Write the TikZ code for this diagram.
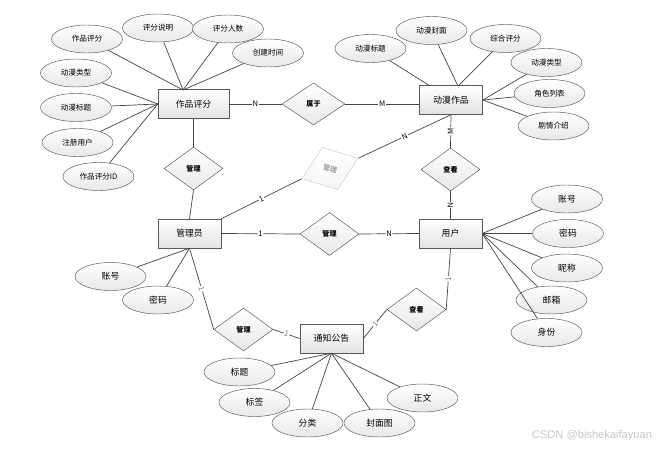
\documentclass[tikz,border=0pt]{standalone}
\usepackage{fontspec}
\setmainfont{Noto Sans CJK SC}
\newfontfamily\wmfont{Liberation Sans}
\usetikzlibrary{shapes.geometric}
\definecolor{linegray}{HTML}{454545}
\definecolor{edgegray}{HTML}{5A5A5A}
\tikzset{
  entity/.style={draw=edgegray, rectangle, top color=white, bottom color=gray!22,
    minimum width=1.89cm, minimum height=0.87cm, inner sep=0pt, font=\fontsize{7.5}{9}\selectfont},
  attr/.style={draw=edgegray, ellipse, top color=white, bottom color=gray!18,
    minimum width=2.13cm, minimum height=0.84cm, inner sep=0pt, font=\fontsize{6.5}{8}\selectfont},
  bigattr/.style={attr, font=\fontsize{7.5}{9}\selectfont},
  relation/.style={draw=edgegray, diamond, top color=white, bottom color=gray!18,
    minimum width=1.77cm, minimum height=1.29cm, inner sep=0pt, font=\fontsize{6}{7}\bfseries\selectfont},
  card/.style={fill=white, inner sep=0.6pt, font=\fontsize{6.5}{7}\selectfont, sloped},
  link/.style={draw=linegray, line width=0.6pt}
}
\begin{document}
\begin{tikzpicture}[x=0.03cm, y=-0.03cm]
  \useasboundingbox (0,0) rectangle (666,450);
  % entities
  \node[entity, minimum width=2.13cm] (zpf) at (193.5,104) {作品评分};
  \node[entity] (dm) at (451,100) {动漫作品};
  \node[entity] (gly) at (189.5,233.5) {管理员};
  \node[entity] (yh) at (450.5,233.5) {用户};
  \node[entity] (tz) at (331.5,338.5) {通知公告};
  % relations
  \node[relation, minimum width=1.89cm, minimum height=1.26cm] (sy) at (313.5,104) {属于};
  \node[relation] (gl1) at (193.5,168.5) {管理};
  \node[relation] (ck1) at (450.5,169.5) {查看};
  \node[relation] (gl2) at (329.5,234) {管理};
  \node[relation] (gl3) at (243.5,329.5) {管理};
  \node[relation] (ck2) at (416.5,309.5) {查看};
  \node[relation, draw=gray!40, top color=white, bottom color=gray!8, text=gray!70,
    minimum width=1.8cm, minimum height=1.35cm, rotate=20] (gl4) at (330,168.5) {\rotatebox{-35}{管理}};
  % attributes of 作品评分
  \node[attr] (zpf1) at (87,39) {作品评分};
  \node[attr] (zpf2) at (158,28) {评分说明};
  \node[attr] (zpf3) at (228,29) {评分人数};
  \node[attr] (zpf4) at (268,53) {创建时间};
  \node[attr] (zpf5) at (76,73) {动漫类型};
  \node[attr] (zpf6) at (76,107.5) {动漫标题};
  \node[attr] (zpf7) at (77.5,142.5) {注册用户};
  \node[attr] (zpf8) at (98.5,176.5) {作品评分ID};
  \coordinate (zpftop) at (183,90);
  \foreach \a in {zpf1,zpf2,zpf3,zpf4} \draw[link] (\a) -- (zpftop);
  \foreach \a in {zpf5,zpf6,zpf7,zpf8} \draw[link] (\a) -- (zpf.west);
  % attributes of 动漫作品
  \node[attr] (dm1) at (370.5,48.5) {动漫标题};
  \node[attr] (dm2) at (431.5,30.5) {动漫封面};
  \node[attr] (dm3) at (505.5,38.5) {综合评分};
  \node[attr] (dm4) at (546.5,62.5) {动漫类型};
  \node[attr] (dm5) at (549.5,93.5) {角色列表};
  \node[attr] (dm6) at (553.5,126) {剧情介绍};
  \coordinate (dmtop1) at (430,86);
  \coordinate (dmtop2) at (458,86);
  \draw[link] (dm1) -- (dmtop1);
  \draw[link] (dm2) -- (dmtop2);
  \draw[link] (dm3) -- (dmtop2);
  \foreach \a in {dm4,dm5,dm6} \draw[link] (\a) -- (dm.east);
  % attributes of 管理员
  \node[bigattr] (gly1) at (110.5,276.5) {账号};
  \node[bigattr] (gly2) at (158,300) {密码};
  \foreach \a in {gly1,gly2} \draw[link] (\a) -- (gly.south);
  % attributes of 用户
  \node[bigattr] (yh1) at (567,199) {账号};
  \node[bigattr] (yh2) at (568,233.5) {密码};
  \node[bigattr] (yh3) at (567,268) {昵称};
  \node[bigattr] (yh4) at (551.5,300) {邮箱};
  \node[bigattr] (yh5) at (546.5,332.5) {身份};
  \foreach \a in {yh1,yh2,yh3,yh4,yh5} \draw[link] (\a) -- (yh.east);
  % attributes of 通知公告
  \node[bigattr] (tz1) at (239.5,372) {标题};
  \node[bigattr] (tz2) at (254.5,402.5) {标签};
  \node[bigattr] (tz3) at (307.5,423) {分类};
  \node[bigattr] (tz4) at (379.5,423) {封面图};
  \node[bigattr] (tz5) at (422.5,398) {正文};
  \foreach \a in {tz1,tz2,tz3,tz4,tz5} \draw[link] (\a) -- (tz.south);
  % relation lines
  \draw[link] (zpf.east) -- node[card] {N} (sy.west);
  \draw[link] (sy.east) -- node[card] {M} (sy.east -| dm.west);
  \draw[link] (zpf.south) -- (gl1.north);
  \draw[link] (gl1.south) -- (gly.north);
  \draw[link] (gly.north east) -- node[card] {1} (gl4.west);
  \draw[link] (gl4.east) -- node[card] {N} (dm.south);
  \draw[link] (dm.south) -- node[card] {M} (ck1.north);
  \draw[link] (ck1.south) -- node[card] {N} (yh.north);
  \draw[link] (gly.east) -- node[card] {1} (gl2.west);
  \draw[link] (gl2.east) -- node[card] {N} (yh.west);
  \draw[link] (gly.south) -- node[card, text=gray] {1} (gl3.west);
  \draw[link] (gl3.east) -- node[card, text=gray] {1} (tz.west);
  \draw[link] (tz.east) -- node[card, text=gray] {1} (ck2.west);
  \draw[link] (ck2.east) -- node[card, text=gray] {1} (yh.south);
  % watermark
  \node[text=gray!45, font=\wmfont\fontsize{9.5}{11}\selectfont] (wm) at (592,436) {CSDN @bishekaifayuan};
\end{tikzpicture}
\end{document}
